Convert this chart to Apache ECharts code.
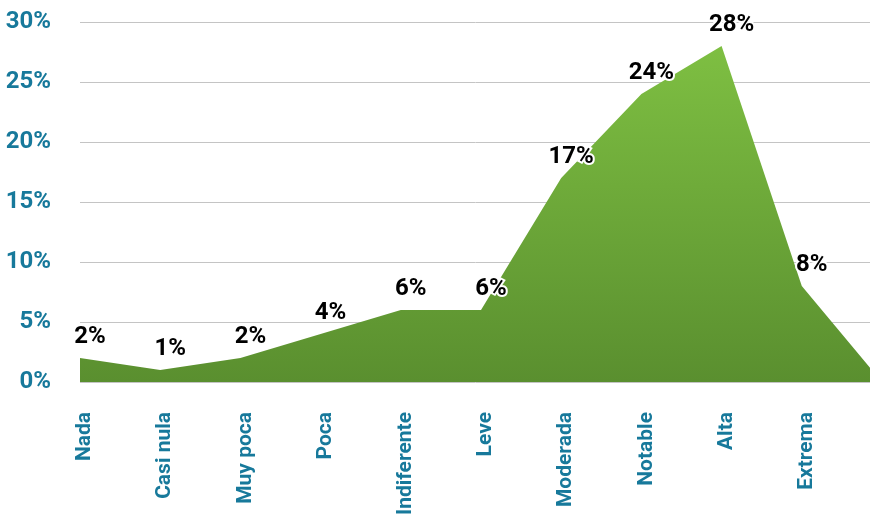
<!DOCTYPE html>
<html>
<head>
<meta charset="utf-8">
<script src="https://cdn.jsdelivr.net/npm/echarts@6/dist/echarts.min.js"></script>
<style>
  html, body { margin: 0; padding: 0; background: #fff; }
  #chart { width: 870px; height: 515px; }
</style>
</head>
<body>
<div id="chart"></div>
<script>
// categorías del eje X (la última queda fuera del lienzo)
const categories = ['Nada', 'Casi nula', 'Muy poca', 'Poca', 'Indiferente', 'Leve', 'Moderada', 'Notable', 'Alta', 'Extrema', '']
// porcentajes por categoría
const values = [2, 1, 2, 4, 6, 6, 17, 24, 28, 8, 0]
// etiquetas visibles sobre cada punto
const shownLabels = ['2%', '1%', '2%', '4%', '6%', '6%', '17%', '24%', '28%', '8%', '']

const teal = '#17799b'
const font = 'Roboto, "Liberation Sans", sans-serif'

const chart = echarts.init(document.getElementById('chart'))

chart.setOption({
  animation: false,
  grid: {
    left: 80,
    right: -12,
    top: 22,
    bottom: 133,
    containLabel: false,
    outerBoundsMode: 'none',
  },
  xAxis: {
    type: 'category',
    data: categories,
    boundaryGap: false,
    axisLine: { show: false },
    axisTick: { show: false },
    axisLabel: {
      rotate: 90,
      margin: 30,
      interval: 0,
      // caja de línea estrecha alineada arriba: el texto girado queda ~5px a la derecha del tick
      verticalAlign: 'top',
      lineHeight: 10,
      color: teal,
      fontFamily: font,
      fontWeight: 'bold',
      fontSize: 21,
    },
  },
  yAxis: {
    type: 'value',
    min: 0,
    max: 30,
    interval: 5,
    axisLine: { show: false },
    axisTick: { show: false },
    splitLine: { lineStyle: { color: '#c4c4c4', width: 1 } },
    axisLabel: {
      formatter: '{value}%',
      margin: 29,
      color: teal,
      fontFamily: font,
      fontWeight: 'bold',
      fontSize: 24,
    },
  },
  series: [
    {
      type: 'line',
      data: values,
      symbol: 'circle',
      symbolSize: 1,
      showSymbol: true,
      itemStyle: { color: 'rgba(0,0,0,0)' },
      lineStyle: { width: 0 },
      areaStyle: {
        opacity: 1,
        color: new echarts.graphic.LinearGradient(0, 0, 0, 1, [
          { offset: 0, color: '#7ebf42' },
          { offset: 1, color: '#5a8f2f' },
        ]),
      },
      label: {
        show: true,
        position: 'top',
        distance: 9,
        offset: [10, 0],
        formatter: (p) => shownLabels[p.dataIndex],
        color: '#000',
        fontFamily: font,
        fontWeight: 'bold',
        fontSize: 24,
        textBorderColor: '#fff',
        textBorderWidth: 4,
      },
    },
  ],
})
</script>
</body>
</html>
